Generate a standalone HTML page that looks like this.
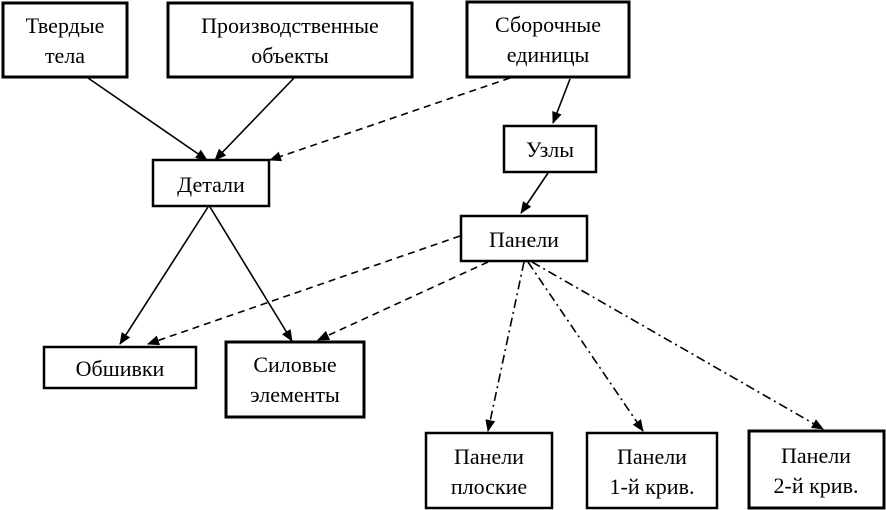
<!DOCTYPE html>
<html><head><meta charset="utf-8"><style>
html,body{margin:0;padding:0;background:#fff;}
svg{display:block;}
text{font-family:"Liberation Serif","Noto Serif CJK SC",serif;font-size:22px;fill:#000;text-anchor:middle;}
</style></head><body>
<svg width="886" height="510" viewBox="0 0 886 510" xmlns="http://www.w3.org/2000/svg">
<defs>
<marker id="a" markerWidth="12" markerHeight="10" refX="11" refY="5" orient="auto" markerUnits="userSpaceOnUse">
<path d="M0,0 L12,5 L0,10 z" fill="#000"/></marker>
</defs>
<g fill="none" stroke="#000" stroke-width="3">
<rect x="3" y="3" width="124" height="74"/>
<rect x="168" y="3" width="244" height="74"/>
<rect x="467" y="2" width="162" height="75"/>
<rect x="504" y="126" width="92" height="46" stroke-width="2.5"/>
<rect x="153" y="160" width="116" height="46" stroke-width="2.5"/>
<rect x="461" y="216" width="126" height="45" stroke-width="2.5"/>
<rect x="44" y="347" width="152" height="41" stroke-width="2.5"/>
<rect x="226" y="342" width="138" height="75"/>
<rect x="426" y="433" width="126" height="75" stroke-width="2.5"/>
<rect x="587" y="433" width="130" height="75" stroke-width="2.5"/>
<rect x="749" y="431" width="135" height="77"/>
</g>
<g stroke="#000" stroke-width="1.6" fill="none">
<line x1="88" y1="78" x2="207" y2="160" marker-end="url(#a)"/>
<line x1="294" y1="78" x2="215" y2="160" marker-end="url(#a)"/>
<line x1="510" y1="78" x2="270" y2="160" stroke-dasharray="7,5" marker-end="url(#a)"/>
<line x1="570" y1="79" x2="553" y2="123" marker-end="url(#a)"/>
<line x1="548" y1="173" x2="521" y2="213" marker-end="url(#a)"/>
<line x1="208" y1="207" x2="120" y2="344" marker-end="url(#a)"/>
<line x1="210" y1="207" x2="292" y2="341" marker-end="url(#a)"/>
<line x1="460" y1="236" x2="148" y2="344" stroke-dasharray="7,5" marker-end="url(#a)"/>
<line x1="488" y1="262" x2="318" y2="340" stroke-dasharray="7,5" marker-end="url(#a)"/>
<line x1="524" y1="262" x2="488" y2="431" stroke-dasharray="9,4,2,4" marker-end="url(#a)"/>
<line x1="528" y1="262" x2="643" y2="431" stroke-dasharray="9,4,2,4" marker-end="url(#a)"/>
<line x1="532" y1="262" x2="823" y2="429" stroke-dasharray="9,4,2,4" marker-end="url(#a)"/>
</g>
<text x="65" y="33">Твердые</text><text x="65" y="63">тела</text>
<text x="290" y="33">Производственные</text><text x="290" y="63">объекты</text>
<text x="548" y="32">Сборочные</text><text x="548" y="62">единицы</text>
<text x="550" y="157">Узлы</text>
<text x="211" y="192">Детали</text>
<text x="524" y="247">Панели</text>
<text x="120" y="376">Обшивки</text>
<text x="295" y="372">Силовые</text><text x="295" y="402">элементы</text>
<text x="489" y="464">Панели</text><text x="489" y="494">плоские</text>
<text x="652" y="464">Панели</text><text x="652" y="494">1-й крив.</text>
<text x="816" y="463">Панели</text><text x="816" y="493">2-й крив.</text>
</svg>
</body></html>
